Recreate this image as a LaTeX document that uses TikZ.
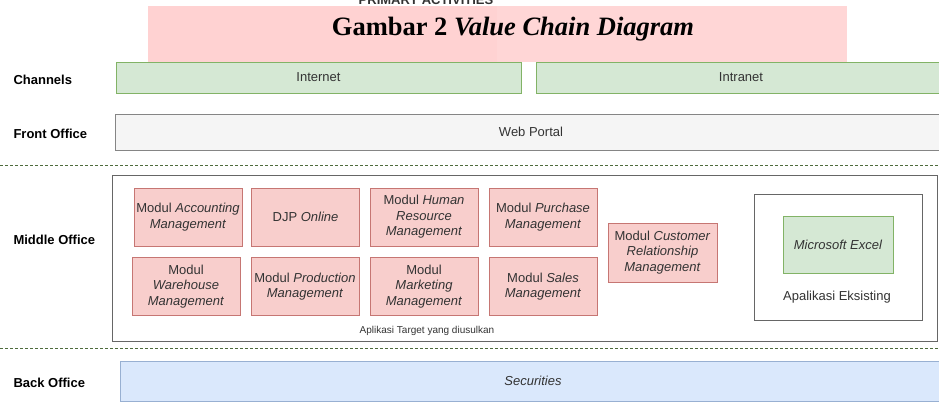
\documentclass[tikz,border=0pt]{standalone}
\usepackage{fontspec}
\setmainfont{Liberation Sans}
\newfontfamily\captionserif{Liberation Serif}
\definecolor{pinkbg}{RGB}{255,210,210}
\definecolor{greenfill}{HTML}{D5E8D4}
\definecolor{greenline}{HTML}{82B366}
\definecolor{redfill}{HTML}{F8CECC}
\definecolor{redline}{HTML}{B85450}
\definecolor{grayfill}{HTML}{F5F5F5}
\definecolor{grayline}{HTML}{666666}
\definecolor{bluefill}{HTML}{DAE8FC}
\definecolor{blueline}{HTML}{6C8EBF}
\definecolor{txtgray}{HTML}{333333}
\begin{document}
\begin{tikzpicture}[x=1pt,y=-1pt,
    every node/.style={font=\fontsize{13}{15.5}\selectfont, text=txtgray},
    rowlabel/.style={anchor=west, font=\fontsize{13}{15.5}\selectfont\bfseries, text=black},
    greenbox/.style={draw=greenline, fill=greenfill, line width=1pt, inner sep=0pt},
    graybox/.style={draw=grayline!80, fill=grayfill, line width=1pt, inner sep=0pt},
    bluebox/.style={draw=blueline!70, fill=bluefill, line width=1pt, inner sep=0pt},
    modbox/.style={draw=redline!80, fill=redfill, line width=1pt, inner sep=0pt,
        minimum width=108pt, minimum height=58pt, align=center},
    framebox/.style={draw=grayline, line width=1pt, inner sep=0pt},
    sepline/.style={draw=greenline!60!black, dash pattern=on 3pt off 2pt, line width=0.8pt}]
    \useasboundingbox (0,0) rectangle (939,402);

    % Caption over the primary activities band
    \fill[pinkbg] (148,6) rectangle (497,62);
    \fill[pinkbg!90] (497,6) rectangle (847,62);
    \node[anchor=base, font=\fontsize{13}{15.5}\selectfont\bfseries] (primary) at (426,4) {PRIMARY ACTIVITIES};
    \node[anchor=base, text=black, font=\captionserif\fontsize{26.5}{30}\selectfont\bfseries] (caption) at (513,35)
        {Gambar 2 \textit{Value Chain Diagram}};

    % Channels
    \node[rowlabel] (channels) at (10,80) {Channels};
    \node[greenbox, minimum width=405pt, minimum height=31pt] (internet) at (318.5,77.5) {Internet};
    \node[greenbox, minimum width=410pt, minimum height=31pt] (intranet) at (741,77.5) {Intranet};

    % Front office
    \node[rowlabel] (front) at (10,134) {Front Office};
    \node[graybox, minimum width=832pt, minimum height=36pt] (portal) at (531,132) {Web Portal};

    \draw[sepline] (0,165.5) -- (939,165.5);

    % Middle office
    \node[rowlabel] (middle) at (10,240) {Middle Office};
    \node[framebox, minimum width=825pt, minimum height=166pt] (target) at (524.5,258) {};
    \node[font=\fontsize{10}{12}\selectfont] (targetlbl) at (427,331) {Aplikasi Target yang diusulkan};

    \node[modbox] (accounting) at (188,217) {Modul \textit{Accounting}\\\textit{Management}};
    \node[modbox] (djp) at (305.5,217) {DJP \textit{Online}};
    \node[modbox] (human) at (424,217) {Modul \textit{Human}\\\textit{Resource}\\\textit{Management}};
    \node[modbox] (purchase) at (543,217) {Modul \textit{Purchase}\\\textit{Management}};

    \node[modbox] (warehouse) at (186,286.5) {Modul\\\textit{Warehouse}\\\textit{Management}};
    \node[modbox] (production) at (305,286.5) {Modul \textit{Production}\\\textit{Management}};
    \node[modbox] (marketing) at (424,286.5) {Modul\\\textit{Marketing}\\\textit{Management}};
    \node[modbox] (sales) at (543,286.5) {Modul \textit{Sales}\\\textit{Management}};

    \node[modbox, minimum width=109pt, minimum height=59pt] (crm) at (662.5,252.5)
        {Modul \textit{Customer}\\\textit{Relationship}\\\textit{Management}};

    % Existing application
    \node[framebox, fill=white, minimum width=168pt, minimum height=126pt] (existing) at (838,257) {};
    \node[greenbox, minimum width=110pt, minimum height=57pt] (excel) at (838,244.5) {\textit{Microsoft Excel}};
    \node (existinglbl) at (837,297) {Apalikasi Eksisting};

    \draw[sepline] (0,348) -- (939,348);

    % Back office
    \node[rowlabel] (back) at (10,383) {Back Office};
    \node[bluebox, minimum width=826pt, minimum height=40pt] (securities) at (533,381) {\textit{Securities}};
\end{tikzpicture}
\end{document}
